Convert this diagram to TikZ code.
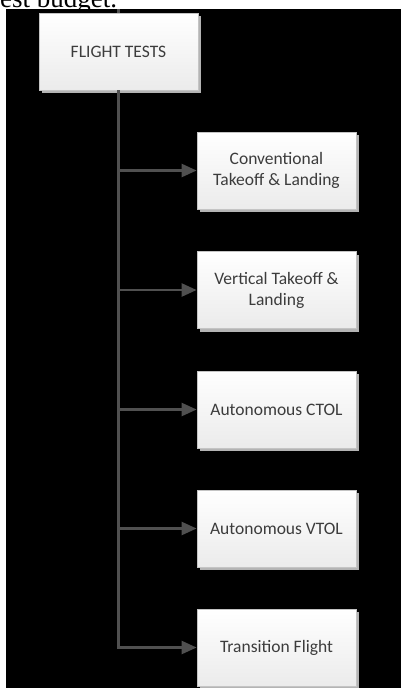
\documentclass[tikz,border=0pt]{standalone}
\usepackage{fontspec}
\newfontfamily\boxfont{Carlito}
\newfontfamily\pagefont{Liberation Serif}
\usetikzlibrary{arrows.meta, positioning, shadows}
\definecolor{linkgray}{HTML}{505050}
\definecolor{boxtext}{HTML}{3C3C3C}
\definecolor{boxedge}{HTML}{C4C4C4}
\definecolor{boxshade}{HTML}{EBEBEB}
\definecolor{shadowgray}{HTML}{B4B4B4}

\begin{document}
\begin{tikzpicture}[x=1pt, y=-1pt, >={Triangle[length=15pt, width=13pt]},
  testbox/.style={rectangle, draw=boxedge, line width=0.8pt, top color=white, bottom color=boxshade,
    minimum width=159pt, minimum height=77pt, inner sep=0pt, align=center, text=boxtext,
    font=\boxfont\fontsize{17.5}{21}\selectfont,
    drop shadow={shadow xshift=3pt, shadow yshift=-3pt, fill=shadowgray, opacity=1}},
  link/.style={->, draw=linkgray, line width=2.5pt}]
\clip (0,0) rectangle (401,688);
\fill[white] (0,0) rectangle (401,688);
% black page area under the diagram
\fill[black] (6,9) rectangle (401,688);
\node[anchor=base west, inner sep=0pt, font=\pagefont\fontsize{27}{30}\selectfont] (prev) at (0,7.3) {est budget.};
% root and its five test phases
\node[testbox] (tests) at (118.5,51.5) {FLIGHT TESTS};
\node[testbox] (ctol) at (276.5,170.5) {Conventional\\Takeoff \& Landing};
\node[testbox] (vtol) at (276.5,290) {Vertical Takeoff \&\\Landing};
\node[testbox] (actol) at (276.5,409.5) {Autonomous CTOL};
\node[testbox] (avtol) at (276.5,528.5) {Autonomous VTOL};
\node[testbox] (trans) at (276.5,647.5) {Transition Flight};
% feed from above and the branches
\coordinate (feed) at (118.5,9);
\draw[draw=linkgray, line width=2.5pt] (feed) -- (tests.north);
\draw[link] (tests.south) |- (ctol.west);
\draw[link] (tests.south) |- (vtol.west);
\draw[link] (tests.south) |- (actol.west);
\draw[link] (tests.south) |- (avtol.west);
\draw[link] (tests.south) |- (trans.west);
\end{tikzpicture}
\end{document}
